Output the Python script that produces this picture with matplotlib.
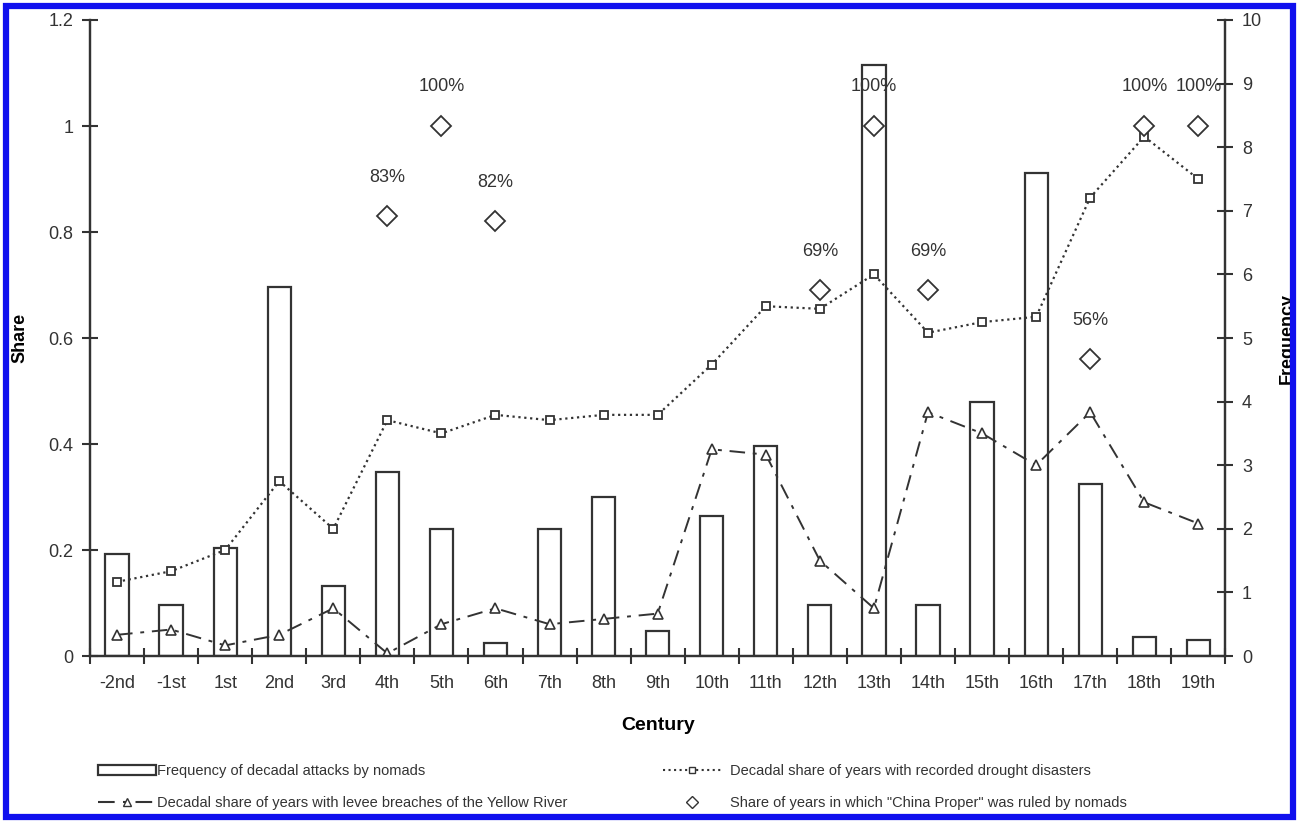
import matplotlib
matplotlib.use("Agg")
import matplotlib.pyplot as plt
import numpy as np
from matplotlib.patches import Rectangle, Patch
from matplotlib.lines import Line2D
from matplotlib.ticker import FuncFormatter

plt.rcParams["font.family"] = ["Liberation Sans", "DejaVu Sans"]

CENTURIES = ["-2nd", "-1st", "1st", "2nd", "3rd", "4th", "5th", "6th", "7th", "8th",
             "9th", "10th", "11th", "12th", "13th", "14th", "15th", "16th", "17th",
             "18th", "19th"]

# frequency of decadal attacks by nomads (right axis)
attacks = [1.6, 0.8, 1.7, 5.8, 1.1, 2.9, 2.0, 0.2, 2.0, 2.5,
           0.4, 2.2, 3.3, 0.8, 9.3, 0.8, 4.0, 7.6, 2.7, 0.3, 0.25]

# decadal share of years with recorded drought disasters
drought = [0.14, 0.16, 0.20, 0.33, 0.24, 0.445, 0.42, 0.455, 0.445, 0.455,
           0.455, 0.55, 0.66, 0.655, 0.72, 0.61, 0.63, 0.64, 0.865, 0.98, 0.90]

# decadal share of years with levee breaches of the Yellow River
levee = [0.04, 0.05, 0.02, 0.04, 0.09, 0.005, 0.06, 0.09, 0.06, 0.07,
         0.08, 0.39, 0.38, 0.18, 0.09, 0.46, 0.42, 0.36, 0.46, 0.29, 0.25]

# share of years in which "China Proper" was ruled by nomads
nomad_rule = [np.nan, np.nan, np.nan, np.nan, np.nan, 0.83, 1.0, 0.82, np.nan, np.nan,
              np.nan, np.nan, np.nan, 0.69, 1.0, 0.69, np.nan, np.nan, 0.56, 1.0, 1.0]
nomad_labels = ["", "", "", "", "", "83%", "100%", "82%", "", "",
                "", "", "", "69%", "100%", "69%", "", "", "56%", "100%", "100%"]

INK = "#333333"
x = np.arange(len(CENTURIES))

fig = plt.figure(figsize=(12.99, 8.23), dpi=100)
ax = fig.add_axes([0.0693, 0.2029, 0.874, 0.7728])
axf = ax.twinx()
ax.set_zorder(axf.get_zorder() + 1)
ax.patch.set_visible(False)

# bars on the frequency axis
axf.bar(x, attacks, width=0.43, facecolor="white", edgecolor=INK, linewidth=1.6)
axf.set_ylim(0, 10)
axf.set_yticks(range(0, 11))

# lines on the share axis
ax.plot(x, drought, linestyle=":", color=INK, linewidth=1.6, marker="s",
        markersize=6, markerfacecolor="white", markeredgecolor=INK, markeredgewidth=1.3)
ax.plot(x, levee, linestyle=(0, (8, 4, 2, 4)), color=INK, linewidth=1.4, marker="^",
        markersize=7, markerfacecolor="white", markeredgecolor=INK, markeredgewidth=1.2)
ax.plot(x, nomad_rule, linestyle="none", marker="D", markersize=10,
        markerfacecolor="white", markeredgecolor=INK, markeredgewidth=1.3)
for xi, yi, lab in zip(x, nomad_rule, nomad_labels):
    if lab:
        ax.annotate(lab, (xi, yi), xytext=(0, 22), textcoords="offset points",
                    ha="center", va="bottom", fontsize=13, color=INK)

ax.set_xlim(-0.5, len(CENTURIES) - 0.5)
ax.set_ylim(0, 1.2)
ax.set_yticks(np.arange(0, 1.21, 0.2))
ax.yaxis.set_major_formatter(FuncFormatter(lambda v, p: f"{v:g}"))
ax.set_xticks(x)
ax.set_xticklabels(CENTURIES)
ax.set_xticks(np.arange(-0.5, len(CENTURIES), 1.0), minor=True)
ax.tick_params(axis="x", which="major", length=0, pad=14, labelsize=13, labelcolor=INK)
ax.tick_params(axis="x", which="minor", direction="inout", length=12, width=1.5, color=INK)
ax.tick_params(axis="y", direction="inout", length=12, width=1.5, color=INK,
               labelsize=13, labelcolor=INK, pad=6)
axf.tick_params(axis="y", direction="inout", length=12, width=1.5, color=INK,
                labelsize=13, labelcolor=INK, pad=6)

for a in (ax, axf):
    a.spines["top"].set_visible(False)
    for s in ("left", "right", "bottom"):
        a.spines[s].set_color(INK)
        a.spines[s].set_linewidth(1.6)

ax.set_ylabel("Share", fontsize=13, fontweight="bold")
ax.yaxis.set_label_coords(-0.0546, 0.5)
axf.set_ylabel("Frequency", fontsize=13, fontweight="bold")
axf.yaxis.set_label_coords(1.0467, 0.5)
ax.set_xlabel("Century", fontsize=14, fontweight="bold", labelpad=18)

h_bar = Patch(facecolor="white", edgecolor=INK, linewidth=1.6,
              label="Frequency of decadal attacks by nomads")
h_levee = Line2D([], [], linestyle=(0, (8, 4, 2, 4)), color=INK, marker="^", markersize=6,
                 markerfacecolor="white", markeredgecolor=INK,
                 label="Decadal share of years with levee breaches of the Yellow River")
h_drought = Line2D([], [], linestyle=":", color=INK, marker="s", markersize=5,
                   markerfacecolor="white", markeredgecolor=INK,
                   label="Decadal share of years with recorded drought disasters")
h_nomad = Line2D([], [], linestyle="none", marker="D", markersize=6,
                 markerfacecolor="white", markeredgecolor=INK,
                 label='Share of years in which "China Proper" was ruled by nomads')

leg1 = fig.legend(handles=[h_bar, h_levee], loc="lower left", bbox_to_anchor=(0.065, 0.0),
                  frameon=False, fontsize=10.5, handlelength=4.0, handletextpad=0.1,
                  labelspacing=1.2, labelcolor=INK)
leg2 = fig.legend(handles=[h_drought, h_nomad], loc="lower left", bbox_to_anchor=(0.5, 0.0),
                  frameon=False, fontsize=10.5, handlelength=4.0, handletextpad=0.6,
                  labelspacing=1.2, labelcolor=INK)

# blue frame around the whole picture
fig.patches.append(Rectangle((0.005, 0.007), 0.99, 0.986, transform=fig.transFigure,
                             fill=False, edgecolor="#1010ee", linewidth=4.5))

fig.savefig("out.png", dpi=100)
